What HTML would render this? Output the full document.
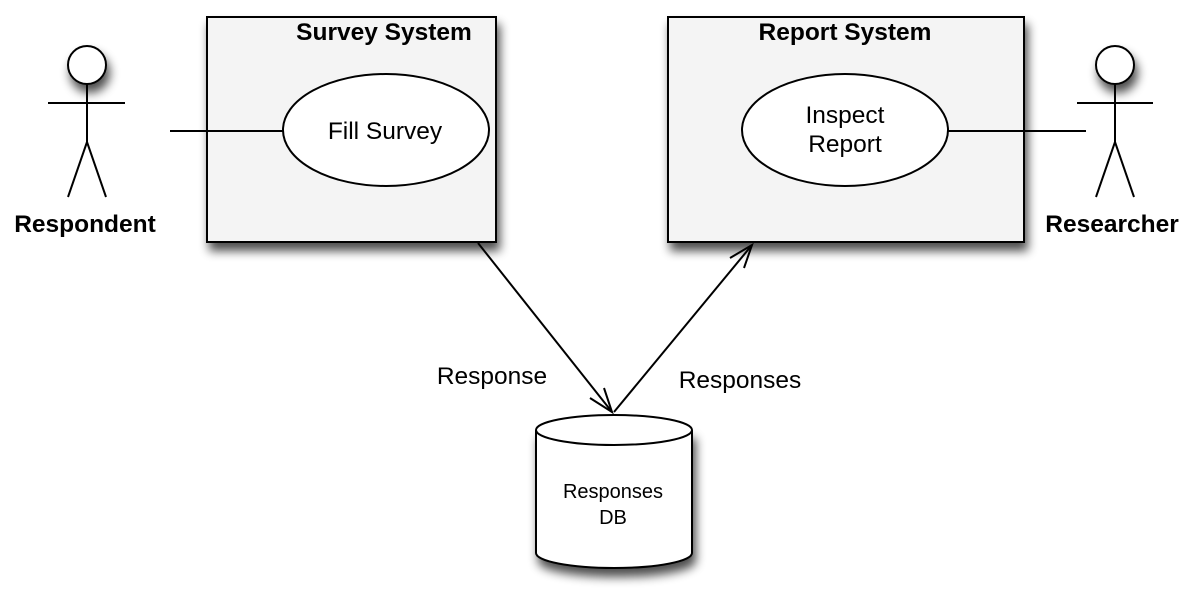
<!DOCTYPE html>
<html><head><style>
body{margin:0;background:#fff}
text{font-family:"Liberation Sans",sans-serif}
</style></head><body>
<svg width="1197" height="602" viewBox="0 0 1197 602">
<defs>
<filter id="sh" x="-50%" y="-50%" width="200%" height="200%">
<feGaussianBlur in="SourceAlpha" stdDeviation="5"/>
<feOffset dx="3" dy="8" result="b"/>
<feComponentTransfer><feFuncA type="linear" slope="0.7"/></feComponentTransfer>
<feMerge><feMergeNode/><feMergeNode in="SourceGraphic"/></feMerge>
</filter>
</defs>
<g stroke="#000" stroke-width="2" fill="none">
<rect x="207" y="17" width="289" height="225" fill="#f4f4f4" filter="url(#sh)"/>
<rect x="668" y="17" width="356" height="225" fill="#f4f4f4" filter="url(#sh)"/>
<ellipse cx="386" cy="130" rx="103" ry="56" fill="#fff"/>
<ellipse cx="845" cy="130" rx="103" ry="56" fill="#fff"/>
<circle cx="87" cy="65" r="19" fill="#fff" filter="url(#sh)"/>
<line x1="87" y1="84" x2="87" y2="142"/>
<line x1="48" y1="103" x2="125" y2="103"/>
<line x1="87" y1="142" x2="68" y2="197"/>
<line x1="87" y1="142" x2="106" y2="197"/>
<line x1="170" y1="131" x2="283" y2="131"/>
<circle cx="1115" cy="65" r="19" fill="#fff" filter="url(#sh)"/>
<line x1="1115" y1="84" x2="1115" y2="142"/>
<line x1="1077" y1="103" x2="1153" y2="103"/>
<line x1="1115" y1="142" x2="1096" y2="197"/>
<line x1="1115" y1="142" x2="1134" y2="197"/>
<line x1="948" y1="131" x2="1086" y2="131"/>
<path d="M536 430 L536 553 A78 15 0 0 0 692 553 L692 430" fill="#fff" filter="url(#sh)"/>
<ellipse cx="614" cy="430" rx="78" ry="15" fill="#fff"/>
<line x1="478" y1="243" x2="612" y2="412"/>
<polyline points="590,398 612,412 604,388"/>
<line x1="614" y1="412" x2="752" y2="245"/>
<polyline points="730,258 752,245 744,268"/>
</g>
<g font-size="24.5" text-anchor="middle">
<text x="384" y="40" font-weight="bold">Survey System</text>
<text x="845" y="40" font-weight="bold">Report System</text>
<text x="385" y="139">Fill Survey</text>
<text x="845" y="123">Inspect</text>
<text x="845" y="152">Report</text>
<text x="85" y="232" font-weight="bold">Respondent</text>
<text x="1112" y="232" font-weight="bold">Researcher</text>
<text x="492" y="384">Response</text>
<text x="740" y="388">Responses</text>
</g>
<g font-size="20" text-anchor="middle">
<text x="613" y="498">Responses</text>
<text x="613" y="524">DB</text>
</g>
</svg>
</body></html>
